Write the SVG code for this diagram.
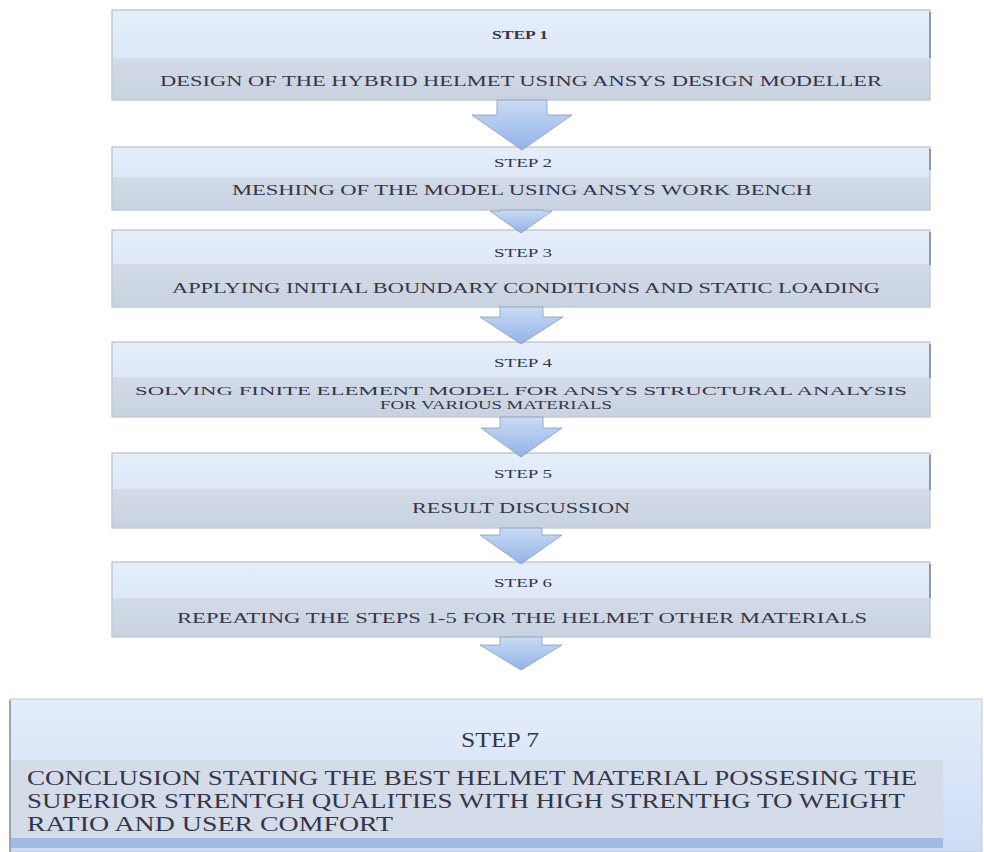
<svg xmlns="http://www.w3.org/2000/svg" width="984" height="852" viewBox="0 0 984 852">
<defs>
<linearGradient id="top" x1="0" y1="0" x2="0" y2="1">
<stop offset="0" stop-color="#e6eefa"/>
<stop offset="1" stop-color="#d3e1f6"/>
</linearGradient>
<linearGradient id="band" x1="0" y1="0" x2="0" y2="1">
<stop offset="0" stop-color="#d3dbe8"/>
<stop offset="1" stop-color="#c9d2e0"/>
</linearGradient>
<linearGradient id="arr" x1="0" y1="0" x2="0" y2="1">
<stop offset="0" stop-color="#c9dbf6"/>
<stop offset="1" stop-color="#93b3e6"/>
</linearGradient>
<linearGradient id="top7" x1="0" y1="0" x2="0" y2="1">
<stop offset="0" stop-color="#e4edfa"/>
<stop offset="1" stop-color="#cddcf5"/>
</linearGradient>
</defs>
<style>
.box{fill:url(#top);stroke:#b9bec7;stroke-width:1.2}
.band{fill:url(#band)}
.edge{stroke:#7f8590;stroke-width:1.5}
.t{font-family:"Liberation Serif","Times New Roman",serif;fill:#34364a;font-size:15px}
.t4{font-size:12.5px}
.s{font-family:"Liberation Serif","Times New Roman",serif;fill:#34364a;font-size:12px}
.b{font-weight:bold}
.arrow{fill:url(#arr);stroke:#8c9bb3;stroke-width:0.8}
.t7{font-family:"Liberation Serif","Times New Roman",serif;fill:#34364a;font-size:20px}
</style>
<rect width="984" height="852" fill="#ffffff"/>

<g id="step1">
<rect class="box" x="112" y="10" width="818" height="90"/>
<rect class="band" x="113" y="58" width="816" height="41"/>
<line class="edge" x1="930" y1="12" x2="930" y2="58"/>
<text class="s b" x="492" y="39" textLength="56" lengthAdjust="spacingAndGlyphs">STEP 1</text>
<text class="t" x="160" y="86" textLength="722" lengthAdjust="spacingAndGlyphs">DESIGN OF THE HYBRID HELMET USING ANSYS DESIGN MODELLER</text>
</g>

<g id="step2">
<rect class="box" x="112" y="147" width="818" height="63"/>
<rect class="band" x="113" y="177" width="816" height="32"/>
<line class="edge" x1="930" y1="149" x2="930" y2="170"/>
<text class="s" x="494" y="167" textLength="58" lengthAdjust="spacingAndGlyphs">STEP 2</text>
<text class="t" x="232" y="195" textLength="580" lengthAdjust="spacingAndGlyphs">MESHING OF THE MODEL USING ANSYS WORK BENCH</text>
</g>

<g id="step3">
<rect class="box" x="112" y="230" width="818" height="77"/>
<rect class="band" x="113" y="264" width="816" height="42"/>
<line class="edge" x1="930" y1="232" x2="930" y2="265"/>
<text class="s" x="494" y="257" textLength="58" lengthAdjust="spacingAndGlyphs">STEP 3</text>
<text class="t" x="172" y="293" textLength="708" lengthAdjust="spacingAndGlyphs">APPLYING  INITIAL BOUNDARY CONDITIONS AND STATIC LOADING</text>
</g>

<g id="step4">
<rect class="box" x="112" y="342" width="818" height="75"/>
<rect class="band" x="113" y="377" width="816" height="39"/>
<line class="edge" x1="930" y1="344" x2="930" y2="378"/>
<text class="s" x="494" y="367" textLength="58" lengthAdjust="spacingAndGlyphs">STEP 4</text>
<text class="t t4" x="135" y="395" textLength="772" lengthAdjust="spacingAndGlyphs">SOLVING FINITE ELEMENT  MODEL FOR ANSYS STRUCTURAL ANALYSIS</text>
<text class="t t4" x="380" y="409" textLength="232" lengthAdjust="spacingAndGlyphs">FOR VARIOUS MATERIALS</text>
</g>

<g id="step5">
<rect class="box" x="112" y="453" width="818" height="75"/>
<rect class="band" x="113" y="489" width="816" height="38"/>
<line class="edge" x1="930" y1="455" x2="930" y2="490"/>
<text class="s" x="494" y="478" textLength="58" lengthAdjust="spacingAndGlyphs">STEP 5</text>
<text class="t" x="412" y="513" textLength="218" lengthAdjust="spacingAndGlyphs">RESULT DISCUSSION</text>
</g>

<g id="step6">
<rect class="box" x="112" y="562" width="818" height="75"/>
<rect class="band" x="113" y="598" width="816" height="38"/>
<line class="edge" x1="930" y1="564" x2="930" y2="598"/>
<text class="s" x="494" y="587" textLength="58" lengthAdjust="spacingAndGlyphs">STEP 6</text>
<text class="t" x="177" y="623" textLength="690" lengthAdjust="spacingAndGlyphs">REPEATING THE STEPS 1-5 FOR THE  HELMET OTHER MATERIALS</text>
</g>

<g id="step7">
<rect x="10" y="699" width="972" height="153" fill="url(#top7)" stroke="#c3c9d3" stroke-width="1"/>
<rect x="11" y="760" width="932" height="78" fill="#d4dce9"/>
<rect x="11" y="838" width="932" height="10" fill="#9fbbe6"/>
<line x1="10" y1="700" x2="10" y2="852" stroke="#8a909a" stroke-width="1.5"/>
<text class="t7" x="461" y="747" textLength="78" lengthAdjust="spacingAndGlyphs">STEP 7</text>
<text class="t7" x="27" y="785" textLength="890" lengthAdjust="spacingAndGlyphs">CONCLUSION STATING THE BEST HELMET MATERIAL POSSESING THE</text>
<text class="t7" x="27" y="808" textLength="878" lengthAdjust="spacingAndGlyphs">SUPERIOR STRENTGH QUALITIES WITH HIGH STRENTHG TO WEIGHT</text>
<text class="t7" x="27" y="831" textLength="366" lengthAdjust="spacingAndGlyphs">RATIO AND   USER COMFORT</text>
</g>

<g id="connectors">
<polygon class="arrow" points="497,100 547,100 547,115 572,115 522,150 472,115 497,115"/>
<polygon class="arrow" points="500,210 543,210 543,211 552,211 521,233 490,211 500,211"/>
<polygon class="arrow" points="500,307 543,307 543,317 563,317 521,344 480,317 500,317"/>
<polygon class="arrow" points="500,417 543,417 543,428 562,428 521,457 481,428 500,428"/>
<polygon class="arrow" points="500,528 542,528 542,535 562,535 521,564 480,535 500,535"/>
<polygon class="arrow" points="500,637 542,637 542,645 562,645 521,670 480,645 500,645"/>
</g>
</svg>
